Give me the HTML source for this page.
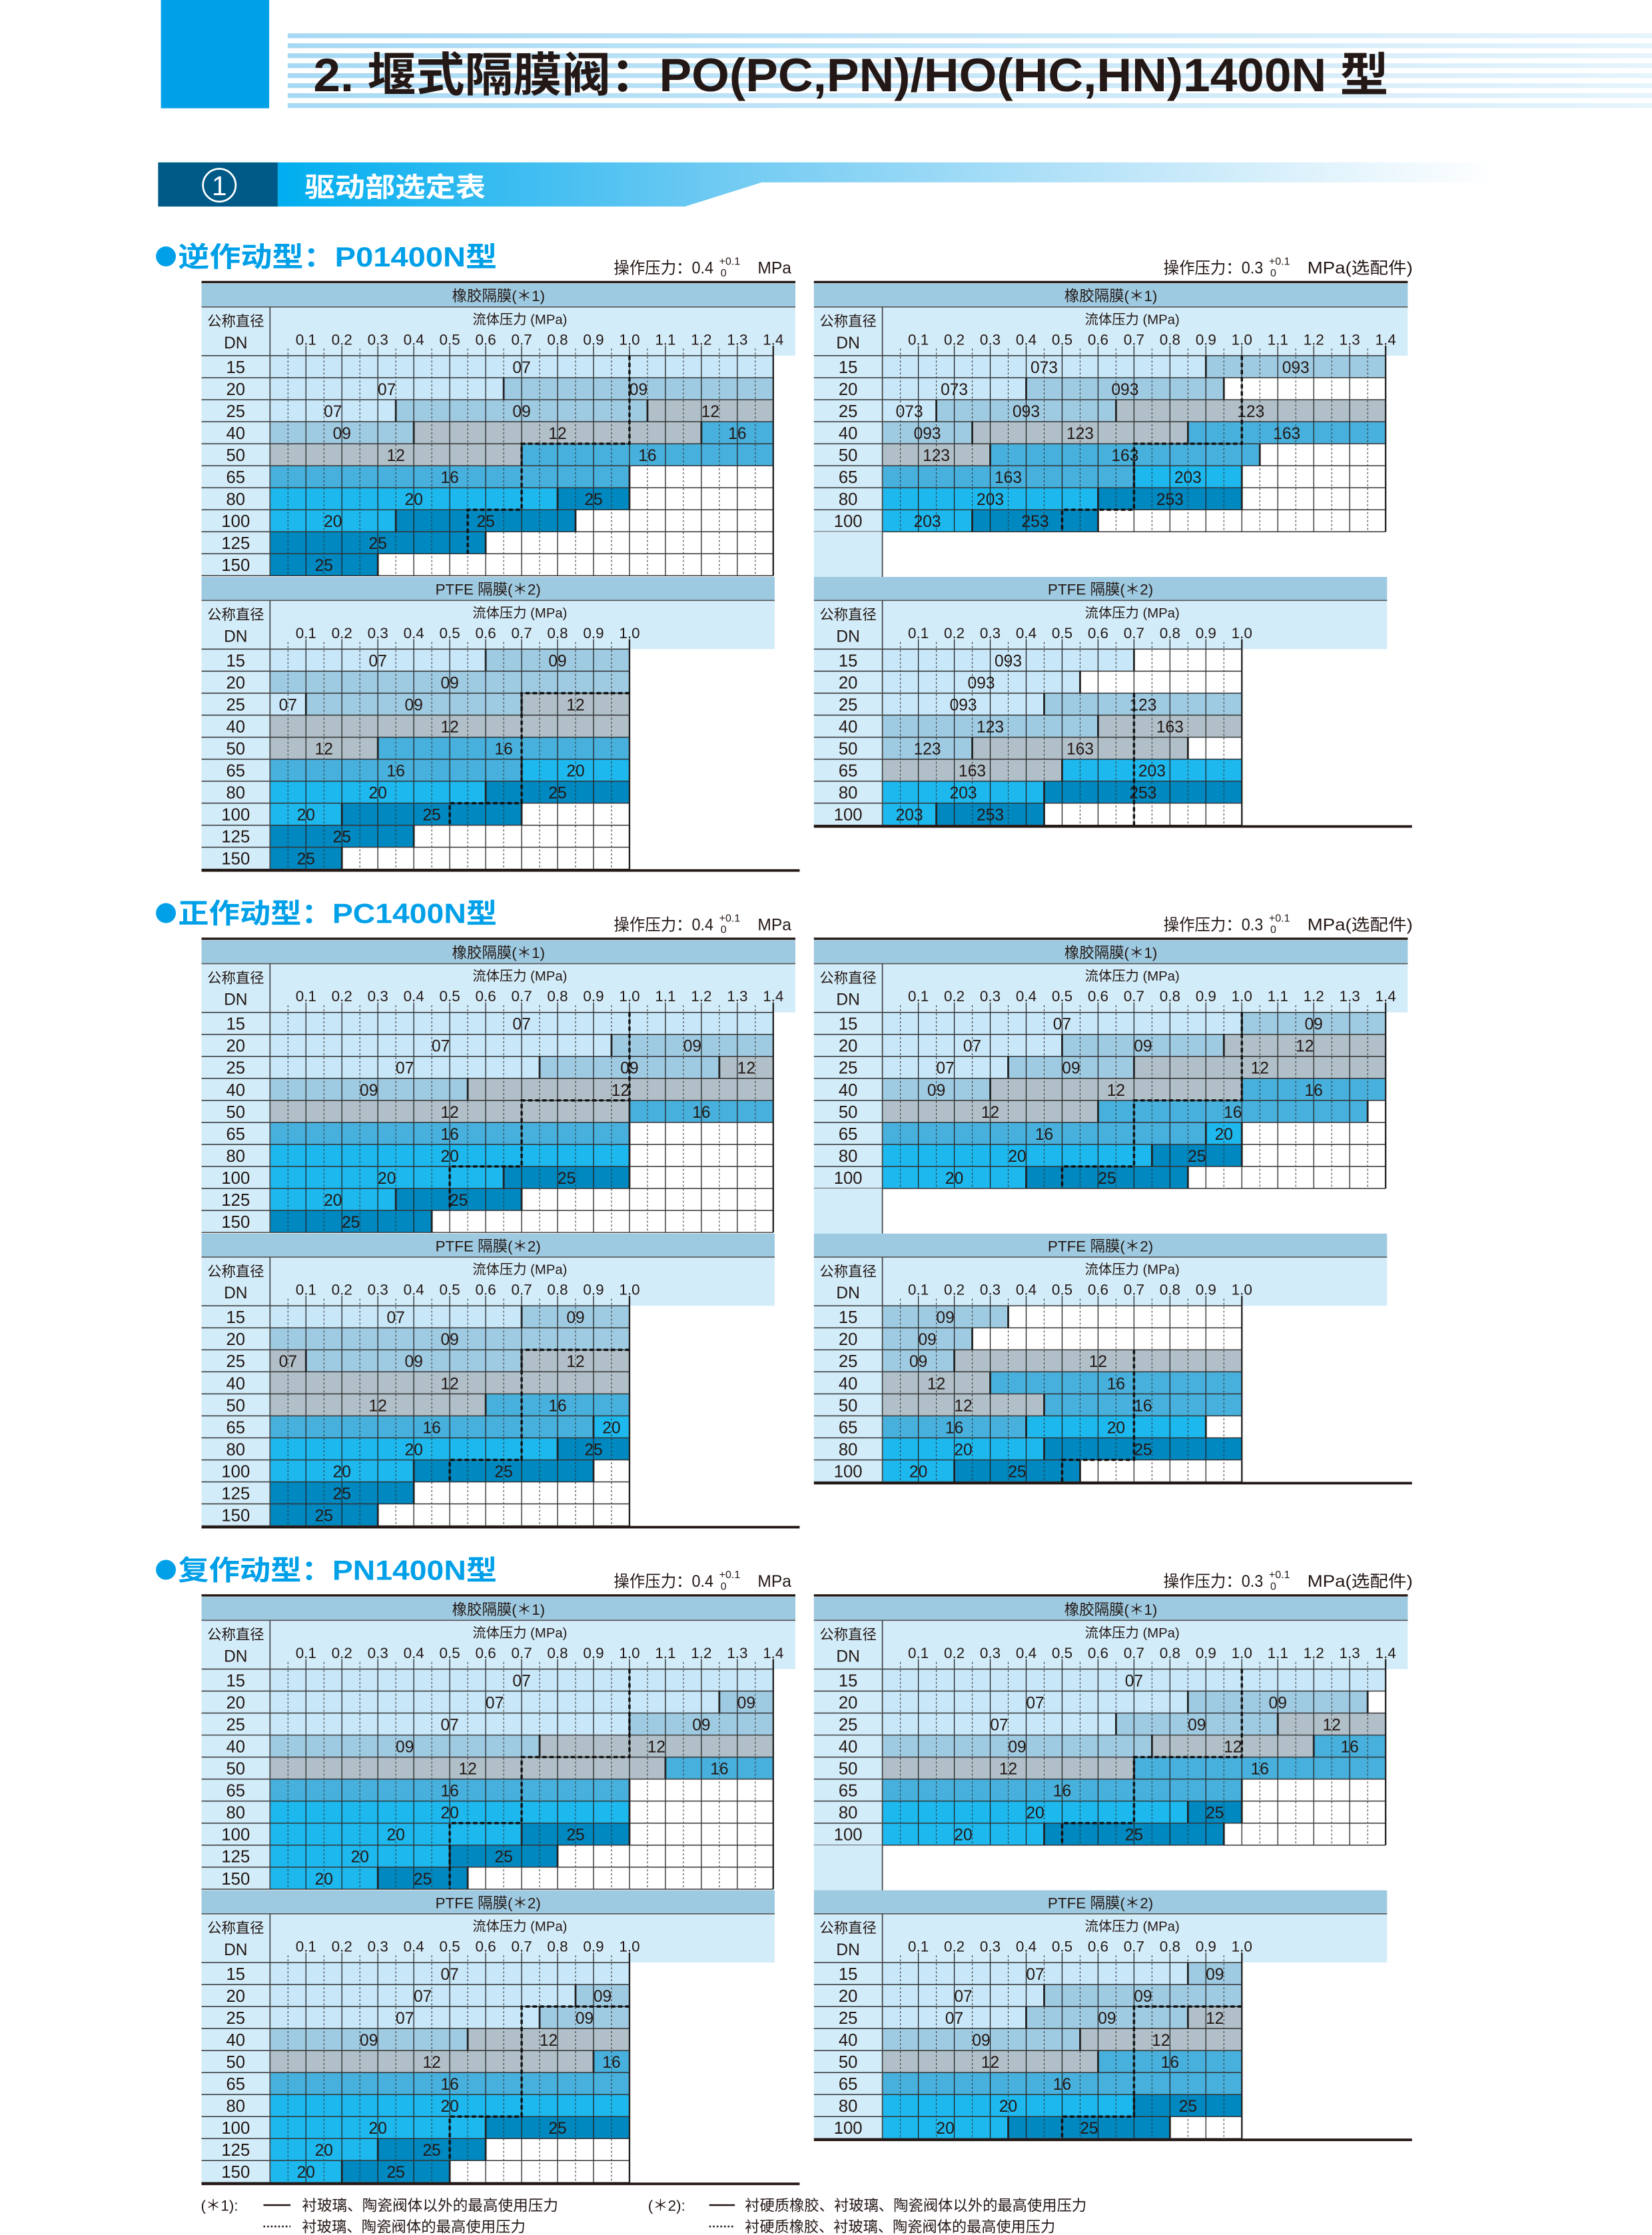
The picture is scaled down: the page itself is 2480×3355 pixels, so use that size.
<!DOCTYPE html>
<html><head><meta charset="utf-8">
<style>
html,body{margin:0;padding:0;background:#fff;}
svg{display:block;}
text{font-family:"Liberation Sans","Noto Sans CJK SC",sans-serif;fill:#231815;}
</style></head>
<body>
<svg id="s" xmlns="http://www.w3.org/2000/svg" width="2480" height="3355" viewBox="0 0 1160 1569" preserveAspectRatio="none">
<defs>
<linearGradient id="gs" x1="0" x2="1" y1="0" y2="0"><stop offset="0" stop-color="#a6d9f4"/><stop offset="1" stop-color="#e6f4fc"/></linearGradient>
<linearGradient id="gh" x1="0" x2="1" y1="0" y2="0"><stop offset="0" stop-color="#00aeef"/><stop offset="0.35" stop-color="#6cc9f2"/><stop offset="0.7" stop-color="#bfe6f9"/><stop offset="1" stop-color="#ffffff"/></linearGradient>
</defs>
<rect x="113" y="0" width="76" height="76" fill="#00a0e9"/>
<g id="stripes"></g>
<text x="220" y="64" font-size="33" font-weight="bold" textLength="755" lengthAdjust="spacingAndGlyphs">2. 堰式隔膜阀：PO(PC,PN)/HO(HC,HN)1400N 型</text>
<polygon points="195,114 1051,114 1051,128 535,128 481,145 195,145" fill="url(#gh)"/>
<rect x="111" y="114" width="84" height="31" fill="#005a87"/>
<circle cx="154" cy="130" r="11.5" fill="none" stroke="#fff" stroke-width="1.3"/>
<text x="154" y="137" font-size="19" text-anchor="middle" style="fill:#fff">1</text>
<text x="214" y="138" font-size="19" font-weight="bold" style="fill:#fff" textLength="127" lengthAdjust="spacingAndGlyphs">驱动部选定表</text>
<g id="tables"></g>
<g font-size="10.5">
<text x="141" y="1552">(＊1):</text>
<line x1="185" y1="1548" x2="204" y2="1548" stroke="#231815" stroke-width="1.2"/>
<text x="212" y="1552" textLength="180" lengthAdjust="spacingAndGlyphs">衬玻璃、陶瓷阀体以外的最高使用压力</text>
<line x1="185" y1="1563" x2="204" y2="1563" stroke="#231815" stroke-width="1.2" stroke-dasharray="1.2,1.4"/>
<text x="212" y="1567" textLength="157" lengthAdjust="spacingAndGlyphs">衬玻璃、陶瓷阀体的最高使用压力</text>
<text x="455" y="1552">(＊2):</text>
<line x1="498" y1="1548" x2="516" y2="1548" stroke="#231815" stroke-width="1.2"/>
<text x="523" y="1552" textLength="240" lengthAdjust="spacingAndGlyphs">衬硬质橡胶、衬玻璃、陶瓷阀体以外的最高使用压力</text>
<line x1="498" y1="1563" x2="516" y2="1563" stroke="#231815" stroke-width="1.2" stroke-dasharray="1.2,1.4"/>
<text x="523" y="1567" textLength="218" lengthAdjust="spacingAndGlyphs">衬硬质橡胶、衬玻璃、陶瓷阀体的最高使用压力</text>
</g>
</svg>
<script>
(function(){
var s='';
for(var i=0;i<8;i++){s+='<rect x="202" y="'+(23.4+i*7)+'" width="958" height="3.4" fill="url(#gs)"/>';}
document.getElementById('stripes').innerHTML=s;

var C={a:'#c8e7f8',b:'#9fcbe2',c:'#b0bfc8',d:'#47b0dc',e:'#1db8ee',f:'#0088c0'};
var HB='#d3ecf9',BAND='#9ecae1',H=15.45,ST=25.24;
var out='';
function R(x,y,w,h,f){out+='<rect x="'+x.toFixed(2)+'" y="'+y.toFixed(2)+'" width="'+w.toFixed(2)+'" height="'+h.toFixed(2)+'" fill="'+f+'"/>';}
function L(x1,y1,x2,y2,w,c,d){out+='<line x1="'+x1.toFixed(2)+'" y1="'+y1.toFixed(2)+'" x2="'+x2.toFixed(2)+'" y2="'+y2.toFixed(2)+'" stroke="'+(c||'#231815')+'" stroke-width="'+w+'"'+(d?' stroke-dasharray="'+d+'"':'')+'/>';}
function T(x,y,t,sz,anc,extra){out+='<text x="'+x.toFixed(2)+'" y="'+y.toFixed(2)+'" font-size="'+sz+'"'+(anc?' text-anchor="'+anc+'"':'')+(extra||'')+'>'+t+'</text>';}
function block(x0,yTop,bandText,bandRight,maxCol,dns,rows,dash){
  var xc=x0+48.1;function col(i){return xc+i*ST;}
  R(x0,yTop,bandRight-x0,16.5,BAND);
  T((x0+bandRight)/2,yTop+12.5,bandText,10.5,'middle');
  R(x0,yTop+16.5,bandRight-x0,34.2,HB);
  L(x0,yTop+16.5,bandRight,yTop+16.5,0.8,'#555');
  var yR=yTop+50.7;
  T(x0+24,yTop+30,'公称直径',10,'middle');
  T(x0+24,yTop+45.5,'DN',11.5,'middle');
  T(xc+6.95*ST,yTop+28.5,'流体压力 (MPa)',9.5,'middle');
  for(var i=1;i<=maxCol;i++){T(col(i),yTop+43,(i/10).toFixed(1),10.5,'middle');}
  var n=rows.length,yB=yR+n*H;
  for(var r=0;r<n;r++){
    var y=yR+r*H;R(x0,y,xc-x0,H,HB);
    T(x0+24,y+H-3.3,dns[r],12,'middle');
    var st=0,segs=rows[r];
    for(var k=0;k<segs.length;k++){var sg=segs[k];R(col(st),y,col(sg[0])-col(st),H,C[sg[1]]);st=sg[0];}
    if(st<maxCol)R(col(st),y,col(maxCol)-col(st),H,'#fff');
  }
  for(var i=0;i<maxCol;i++){L(col(i+0.5),yR-5,col(i+0.5),yB,0.5,'#333','1.4,1.4');}
  for(var i=1;i<maxCol;i++){L(col(i),yR-7,col(i),yB,0.6,'#222');}
  for(var r=0;r<=n;r++){L(x0,yR+r*H,col(maxCol),yR+r*H,0.7,'#333');}
  L(col(maxCol),yR-7,col(maxCol),yB,1.1,'#222');
  L(xc,yTop+16.5,xc,yB,0.8,'#444');
  for(var r=0;r<n;r++){
    var y=yR+r*H,st=0,segs=rows[r];
    for(var k=0;k<segs.length;k++){var sg=segs[k];
      if(sg[0]<maxCol)L(col(sg[0]),y,col(sg[0]),y+H,1.3,'#222');
      T(col((st+sg[0])/2),y+H-3.3,sg[2],11.5,'middle');st=sg[0];}
  }
  if(dash){var p='';for(var k=0;k<dash.length;k++){p+=col(dash[k][0]).toFixed(2)+','+(yR+dash[k][1]*H).toFixed(2)+' ';}
    out+='<polyline points="'+p+'" fill="none" stroke="#111" stroke-width="1.6" stroke-dasharray="3,2"/>';}
  return yB;
}
var DN10=['15','20','25','40','50','65','80','100','125','150'];
var DN8=DN10.slice(0,8);
function opText(x,y,v,suffix,sw){
  T(x,y,'操作压力：'+v,11.5,null,' textLength="70" lengthAdjust="spacingAndGlyphs"');
  T(x+74,y-6,'+0.1',7.5,null,'');T(x+75,y+2,'0',7.5,null,'');
  T(x+101,y,'MPa'+(suffix||''),11.5,null,suffix?' textLength="'+sw+'" lengthAdjust="spacingAndGlyphs"':'');
}
function section(Ty,title,L1,L2,R1,R2){
  out+='<circle cx="116.5" cy="'+(Ty-18)+'" r="7" fill="#00a0e9"/>';
  T(125,Ty-11,title,19.5,null,' font-weight="bold" style="fill:#00a0e9" textLength="224" lengthAdjust="spacingAndGlyphs"');
  opText(431,Ty-6,'0.4','',0);
  opText(817,Ty-6,'0.3','(选配件)',74);
  var xs=[141.5,571.5];
  for(var s=0;s<2;s++){
    var x0=xs[s];var D=s==0?[L1,L2]:[R1,R2];var dn=s==0?DN10:DN8;
    R(x0,Ty-0.8,417,1.6,'#231815');
    var yb=block(x0,Ty+1,'橡胶隔膜(＊1)',x0+417,14,dn,D[0][0],D[0][1]);
    if(s==1){R(x0,yb,48.1,Ty+207-yb,HB);L(x0+48.1,yb,x0+48.1,Ty+207,0.8,'#444');}
    var ptR=x0+48.1+14*ST+1;
    var yb2=block(x0,Ty+207,'PTFE 隔膜(＊2)',ptR,10,dn,D[1][0],D[1][1]);
    R(x0,yb2,420,1.8,'#231815');
  }
}
var d1=[[10,0],[10,4],[7,4],[7,7],[5,7],[5,8]];
section(198,'逆作动型：P01400N型',
 [[[[14,'a','07']],[[6.5,'a','07'],[14,'b','09']],[[3.5,'a','07'],[10.5,'b','09'],[14,'c','12']],[[4,'b','09'],[12,'c','12'],[14,'d','16']],[[7,'c','12'],[14,'d','16']],[[10,'d','16']],[[8,'e','20'],[10,'f','25']],[[3.5,'e','20'],[8.5,'f','25']],[[6,'f','25']],[[3,'f','25']]],[[10,0],[10,4],[7,4],[7,7],[5.5,7],[5.5,9]]],
 [[[[6,'a','07'],[10,'b','09']],[[10,'b','09']],[[1,'a','07'],[7,'b','09'],[10,'c','12']],[[10,'c','12']],[[3,'c','12'],[10,'d','16']],[[7,'d','16'],[10,'e','20']],[[6,'e','20'],[10,'f','25']],[[2,'e','20'],[7,'f','25']],[[4,'f','25']],[[2,'f','25']]],[[10,2],[7,2],[7,7],[5,7],[5,8]]],
 [[[[9,'a','073'],[14,'b','093']],[[4,'a','073'],[9.5,'b','093']],[[1.5,'a','073'],[6.5,'b','093'],[14,'c','123']],[[2.5,'b','093'],[8.5,'c','123'],[14,'d','163']],[[3,'c','123'],[10.5,'d','163']],[[7,'d','163'],[10,'e','203']],[[6,'e','203'],[10,'f','253']],[[2.5,'e','203'],[6,'f','253']]],d1],
 [[[[7,'a','093']],[[5.5,'a','093']],[[4.5,'a','093'],[10,'b','123']],[[6,'b','123'],[10,'c','163']],[[2.5,'b','123'],[8.5,'c','163']],[[5,'c','163'],[10,'e','203']],[[4.5,'e','203'],[10,'f','253']],[[1.5,'e','203'],[4.5,'f','253']]],[[7,2],[7,8]]]
);
section(659,'正作动型：PC1400N型',
 [[[[14,'a','07']],[[9.5,'a','07'],[14,'b','09']],[[7.5,'a','07'],[12.5,'b','09'],[14,'c','12']],[[5.5,'b','09'],[14,'c','12']],[[10,'c','12'],[14,'d','16']],[[10,'d','16']],[[10,'e','20']],[[6.5,'e','20'],[10,'f','25']],[[3.5,'e','20'],[7,'f','25']],[[4.5,'f','25']]],[[10,0],[10,4],[7,4],[7,7],[5,7],[5,9]]],
 [[[[7,'a','07'],[10,'b','09']],[[10,'b','09']],[[1,'c','07'],[7,'b','09'],[10,'c','12']],[[10,'c','12']],[[6,'c','12'],[10,'d','16']],[[9,'d','16'],[10,'e','20']],[[8,'e','20'],[10,'f','25']],[[4,'e','20'],[9,'f','25']],[[4,'f','25']],[[3,'f','25']]],[[10,2],[7,2],[7,7],[5,7],[5,8]]],
 [[[[10,'a','07'],[14,'b','09']],[[5,'a','07'],[9.5,'b','09'],[14,'c','12']],[[3.5,'a','07'],[7,'b','09'],[14,'c','12']],[[3,'b','09'],[10,'c','12'],[14,'d','16']],[[6,'c','12'],[13.5,'d','16']],[[9,'d','16'],[10,'e','20']],[[7.5,'e','20'],[10,'f','25']],[[4,'e','20'],[8.5,'f','25']]],d1],
 [[[[3.5,'b','09']],[[2.5,'b','09']],[[2,'b','09'],[10,'c','12']],[[3,'c','12'],[10,'d','16']],[[4.5,'c','12'],[10,'d','16']],[[4,'d','16'],[9,'e','20']],[[4.5,'e','20'],[10,'f','25']],[[2,'e','20'],[5.5,'f','25']]],[[7,2],[7,7],[5,7],[5,8]]]
);
section(1120,'复作动型：PN1400N型',
 [[[[14,'a','07']],[[12.5,'a','07'],[14,'b','09']],[[10,'a','07'],[14,'b','09']],[[7.5,'b','09'],[14,'c','12']],[[11,'c','12'],[14,'d','16']],[[10,'d','16']],[[10,'e','20']],[[7,'e','20'],[10,'f','25']],[[5,'e','20'],[8,'f','25']],[[3,'e','20'],[5.5,'f','25']]],[[10,0],[10,4],[7,4],[7,7],[5,7],[5,10]]],
 [[[[10,'a','07']],[[8.5,'a','07'],[10,'b','09']],[[7.5,'a','07'],[10,'b','09']],[[5.5,'b','09'],[10,'c','12']],[[9,'c','12'],[10,'d','16']],[[10,'d','16']],[[10,'e','20']],[[6,'e','20'],[10,'f','25']],[[3,'e','20'],[6,'f','25']],[[2,'e','20'],[5,'f','25']]],[[10,2],[7,2],[7,7],[5,7],[5,9]]],
 [[[[14,'a','07']],[[8.5,'a','07'],[13.5,'b','09']],[[6.5,'a','07'],[11,'b','09'],[14,'c','12']],[[7.5,'b','09'],[12,'c','12'],[14,'d','16']],[[7,'c','12'],[14,'d','16']],[[10,'d','16']],[[8.5,'e','20'],[10,'f','25']],[[4.5,'e','20'],[9.5,'f','25']]],d1],
 [[[[8.5,'a','07'],[10,'b','09']],[[4.5,'a','07'],[10,'b','09']],[[4,'a','07'],[8.5,'b','09'],[10,'c','12']],[[5.5,'b','09'],[10,'c','12']],[[6,'c','12'],[10,'d','16']],[[10,'d','16']],[[7,'e','20'],[10,'f','25']],[[3.5,'e','20'],[8,'f','25']]],[[10,2],[7,2],[7,7],[5,7],[5,8]]]
);
document.getElementById('tables').innerHTML=out;
})();
</script>
</body></html>
